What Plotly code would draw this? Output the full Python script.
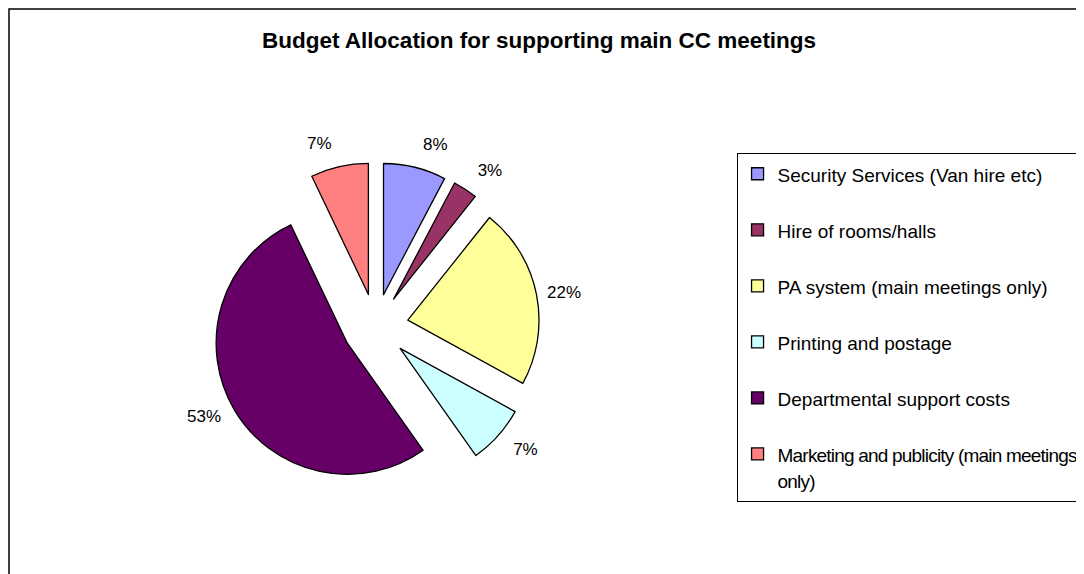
import plotly.graph_objects as go

# ---- data ----
categories = [
    "Security Services (Van hire etc)",
    "Hire of rooms/halls",
    "PA system (main meetings only)",
    "Printing and postage",
    "Departmental support costs",
    "Marketing and publicity (main meetings only)",
]
shares = [7.7, 3.0, 22.3, 7.2, 52.7, 7.1]
colors = ["#9999FF", "#993366", "#FFFF99", "#CCFFFF", "#660066", "#FF8080"]
title_text = "Budget Allocation for supporting main CC meetings"

FONT = "Liberation Sans, Arial, sans-serif"
PULL = 0.25
PIE_X = [0.1871, 0.4900]
PIE_Y = [0.1595, 0.7320]
LABEL_SCALE = 1.085  # percent labels sit a little further out than the rim
LABEL_PULL = [0.25, 0.25, 0.194, 0.25, 0.22, 0.25]


def wrap(label, width=38):
    if len(label) <= width:
        return label, 1
    cut = label.rfind(" ", 0, width + 1)
    return label[:cut] + "<br>" + label[cut + 1:], 2


def scaled(rng, k):
    c = (rng[0] + rng[1]) / 2
    h = (rng[1] - rng[0]) / 2 * k
    return [c - h, c + h]


legend_labels = []
for c in categories:
    txt, n = wrap(c)
    if n == 1:
        legend_labels.append("<span style='font-size:19px'>" + txt + "</span><br> ")
    else:
        legend_labels.append(
            "<span style='font-size:19px;letter-spacing:-0.8px'>" + txt + "</span>")

fig = go.Figure()

# the pie itself (with legend)
fig.add_trace(
    go.Pie(
        labels=legend_labels,
        values=shares,
        sort=False,
        direction="clockwise",
        rotation=0,
        pull=[PULL] * len(shares),
        marker=dict(colors=colors, line=dict(color="black", width=1.3)),
        textinfo="none",
        domain=dict(x=PIE_X, y=PIE_Y),
        hoverinfo="skip",
    )
)

# percentage labels, placed slightly outside the rim
fig.add_trace(
    go.Pie(
        labels=categories,
        values=shares,
        sort=False,
        direction="clockwise",
        rotation=0,
        pull=LABEL_PULL,
        marker=dict(colors=["rgba(0,0,0,0)"] * len(shares),
                    line=dict(width=0)),
        texttemplate="%{percent:.0%}",
        textposition="outside",
        textfont=dict(family=FONT, size=17, color="black"),
        domain=dict(x=scaled(PIE_X, LABEL_SCALE), y=scaled(PIE_Y, LABEL_SCALE)),
        showlegend=False,
        hoverinfo="skip",
    )
)

fig.update_layout(
    width=1084,
    height=574,
    margin=dict(l=1, r=0, t=1, b=0, autoexpand=False),
    paper_bgcolor="white",
    plot_bgcolor="white",
    font=dict(family=FONT, color="black"),
    title=dict(
        text="<b>" + title_text + "</b>",
        x=0.4899,
        xref="container",
        xanchor="center",
        y=0.9443,
        yref="container",
        yanchor="middle",
        font=dict(family=FONT, size=22.5, color="black"),
    ),
    legend=dict(
        x=0.6718,
        xanchor="left",
        y=0.7487,
        yanchor="top",
        bgcolor="white",
        bordercolor="black",
        borderwidth=1,
        font=dict(family=FONT, size=20.4, color="black"),
        valign="top",
        itemclick=False,
    ),
    shapes=[
        dict(
            type="rect",
            xref="paper",
            yref="paper",
            x0=0,
            x1=1.05,
            y0=-0.05,
            y1=1,
            line=dict(color="black", width=1.5),
            fillcolor="rgba(0,0,0,0)",
            layer="below",
        )
    ],
)

fig.write_html("out.html")
